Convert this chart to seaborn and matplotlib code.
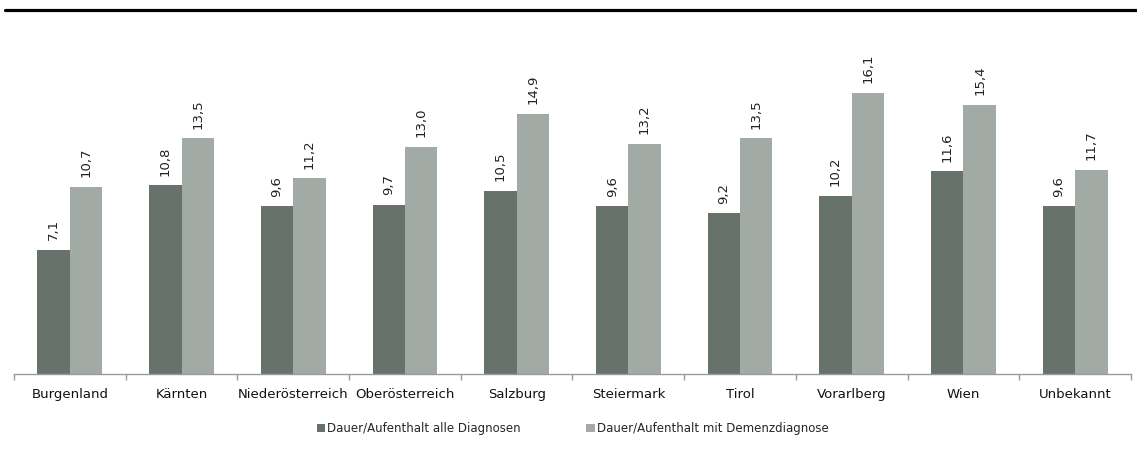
import matplotlib
matplotlib.use("Agg")
import matplotlib.pyplot as plt
from matplotlib.lines import Line2D
import seaborn as sns
import pandas as pd
import numpy as np

regions = ["Burgenland", "Kärnten", "Niederösterreich", "Oberösterreich", "Salzburg",
           "Steiermark", "Tirol", "Vorarlberg", "Wien", "Unbekannt"]
alle = [7.1, 10.8, 9.6, 9.7, 10.5, 9.6, 9.2, 10.2, 11.6, 9.6]
demenz = [10.7, 13.5, 11.2, 13.0, 14.9, 13.2, 13.5, 16.1, 15.4, 11.7]
series = ["Dauer/Aufenthalt alle Diagnosen", "Dauer/Aufenthalt mit Demenzdiagnose"]
colors = ["#67726a", "#a2aaa5"]

df = pd.DataFrame({
    "Region": regions * 2,
    "Wert": alle + demenz,
    "Serie": [series[0]] * len(regions) + [series[1]] * len(regions),
})

sns.set_style("white")
plt.rcParams["font.family"] = ["DejaVu Sans"]

fig = plt.figure(figsize=(11.37, 4.55), dpi=100)
ax = fig.add_axes([0.0123, 0.178, 0.9824, 0.734])

sns.barplot(data=df, x="Region", y="Wert", hue="Serie", palette=colors,
            width=0.58, saturation=1, ax=ax, edgecolor="none")

# Wert-Beschriftung senkrecht über den Balken, mit Dezimalkomma
for cont in ax.containers:
    vals = [b.get_height() for b in cont]
    ax.bar_label(cont, labels=[f"{v:.1f}".replace(".", ",") for v in vals],
                 rotation=90, padding=7, fontsize=9.5, color="#222222")

ax.set_ylim(0, 19.13)
ax.set_xlim(-0.5, len(regions) - 0.5)
ax.set_xlabel("")
ax.set_ylabel("")
ax.set_yticks([])
for s in ["top", "right", "left"]:
    ax.spines[s].set_visible(False)
ax.spines["bottom"].set_color("#9a9a9a")
ax.spines["bottom"].set_linewidth(1)

ax.set_xticks(np.arange(len(regions)))
ax.set_xticklabels(regions, fontsize=9.5, color="#111111")
ax.tick_params(axis="x", which="major", length=0, pad=10)
ax.set_xticks(np.arange(len(regions) + 1) - 0.5, minor=True)
ax.tick_params(axis="x", which="minor", length=4, color="#9a9a9a", width=1,
               direction="out", bottom=True)

ax.legend(loc="lower center", bbox_to_anchor=(0.5, -0.215), ncol=2, frameon=False,
          handlelength=0.7, handleheight=0.7, handletextpad=0.15, columnspacing=5.6,
          fontsize=8.5)

fig.add_artist(Line2D([5 / 1137, 1.0], [0.979, 0.979], color="black", linewidth=2.3,
                      transform=fig.transFigure))

fig.savefig("out.png", dpi=100)
